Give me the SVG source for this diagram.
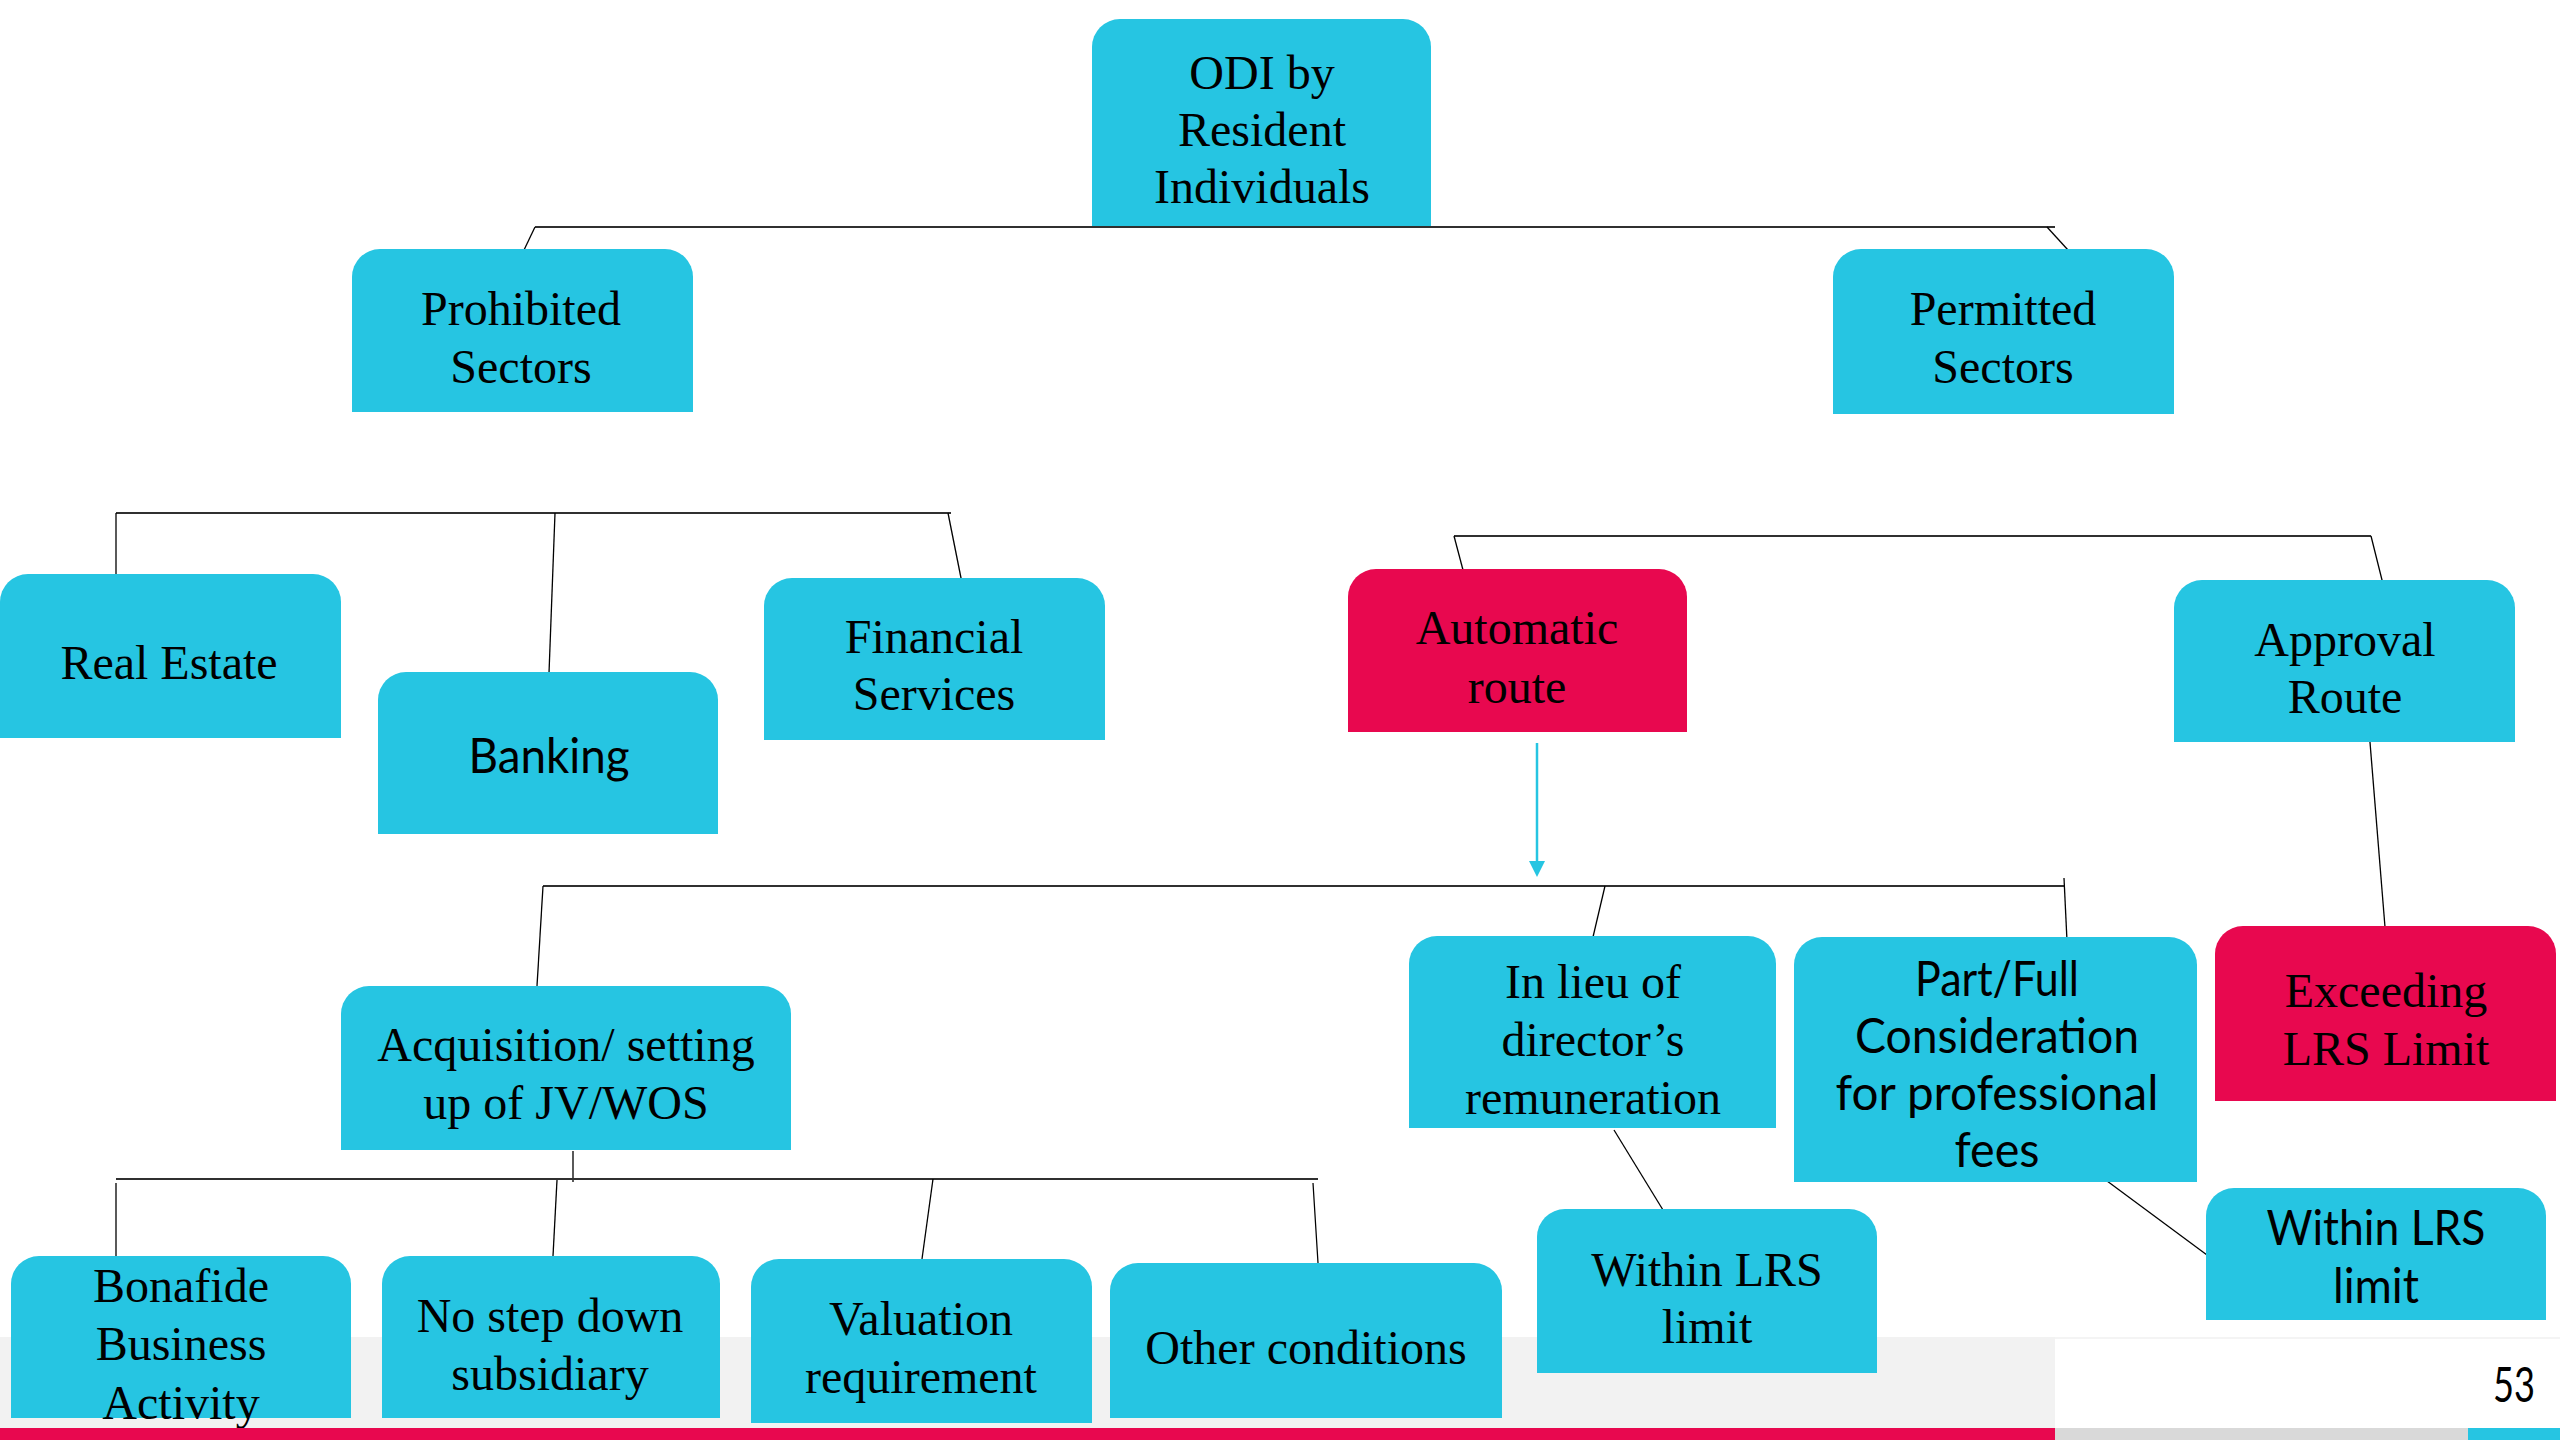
<svg xmlns="http://www.w3.org/2000/svg" width="2560" height="1440" viewBox="0 0 2560 1440">
<style>
.box{fill:#26C5E2}
.red{fill:#E8084F}
.t{font-family:"Liberation Serif","Times New Roman",serif;font-size:48px;fill:#000;text-anchor:middle}
.s{font-family:Lato,"Open Sans","Liberation Sans",sans-serif;font-size:48px;fill:#000;text-anchor:middle}
.h{stroke:#303030;stroke-width:2.2;fill:none}
.l{stroke:#000;stroke-width:1.3;fill:none}
</style>
<rect x="0" y="0" width="2560" height="1440" fill="#fff"/>
<g id="footer-band">
<rect x="0" y="1337" width="2055" height="92" fill="#F2F2F2"/>
<rect x="2055" y="1337" width="505" height="2" fill="#F4F4F4"/>
</g>
<g id="connectors">
<path class="h" d="M535 227 H2055"/>
<path class="l" d="M535 227 L524 250"/>
<path class="l" d="M2047 227 L2068 250"/>
<path class="h" d="M116 513 H951"/>
<path class="l" d="M116 513 V574"/>
<path class="l" d="M555 513 L549 673"/>
<path class="l" d="M948 513 L962 583"/>
<path class="h" d="M1454 536 H2371"/>
<path class="l" d="M1454 536 L1463 570"/>
<path class="l" d="M2371 536 L2385 592"/>
<path class="l" d="M2369 730 L2385 927"/>
<path d="M1537 743 V863" stroke="#26C5E2" stroke-width="2.5" fill="none"/>
<polygon points="1529,861 1545,861 1537,877" fill="#26C5E2"/>
<path class="h" d="M543 886 H2064"/>
<path class="l" d="M543 886 L537 986"/>
<path class="l" d="M1605 886 L1593 937"/>
<path class="l" d="M2064 878 L2067 941"/>
<path class="l" d="M1614 1130 L1663 1210"/>
<path class="l" d="M2103 1178 L2207 1255"/>
<path class="l" d="M573 1151 V1182"/>
<path class="h" d="M116 1179 H1318"/>
<path class="l" d="M116 1183 V1256"/>
<path class="l" d="M557 1180 L553 1256"/>
<path class="l" d="M933 1179 L922 1259"/>
<path class="l" d="M1313 1183 L1318 1263"/>
</g>
<g id="odi">
<path class="box" d="M1092 226 V47 A28 28 0 0 1 1120 19 H1403 A28 28 0 0 1 1431 47 V226 Z"/>
<text class="t" x="1262" y="89">ODI by</text>
<text class="t" x="1262" y="146">Resident</text>
<text class="t" x="1262" y="203">Individuals</text>
</g>
<g id="prohibited">
<path class="box" d="M352 412 V277 A28 28 0 0 1 380 249 H665 A28 28 0 0 1 693 277 V412 Z"/>
<text class="t" x="521" y="325">Prohibited</text>
<text class="t" x="521" y="383">Sectors</text>
</g>
<g id="permitted">
<path class="box" d="M1833 414 V277 A28 28 0 0 1 1861 249 H2146 A28 28 0 0 1 2174 277 V414 Z"/>
<text class="t" x="2003" y="325">Permitted</text>
<text class="t" x="2003" y="383">Sectors</text>
</g>
<g id="real-estate">
<path class="box" d="M0 738 V602 A28 28 0 0 1 28 574 H313 A28 28 0 0 1 341 602 V738 Z"/>
<text class="t" x="169" y="679">Real Estate</text>
</g>
<g id="banking">
<path class="box" d="M378 834 V700 A28 28 0 0 1 406 672 H690 A28 28 0 0 1 718 700 V834 Z"/>
<text class="s" x="549" y="773" textLength="161" lengthAdjust="spacingAndGlyphs">Banking</text>
</g>
<g id="financial">
<path class="box" d="M764 740 V606 A28 28 0 0 1 792 578 H1077 A28 28 0 0 1 1105 606 V740 Z"/>
<text class="t" x="934" y="653">Financial</text>
<text class="t" x="934" y="710">Services</text>
</g>
<g id="automatic">
<path class="red" d="M1348 732 V597 A28 28 0 0 1 1376 569 H1659 A28 28 0 0 1 1687 597 V732 Z"/>
<text class="t" x="1517" y="644">Automatic</text>
<text class="t" x="1517" y="703">route</text>
</g>
<g id="approval">
<path class="box" d="M2174 742 V608 A28 28 0 0 1 2202 580 H2487 A28 28 0 0 1 2515 608 V742 Z"/>
<text class="t" x="2345" y="656">Approval</text>
<text class="t" x="2345" y="713">Route</text>
</g>
<g id="acquisition">
<path class="box" d="M341 1150 V1014 A28 28 0 0 1 369 986 H763 A28 28 0 0 1 791 1014 V1150 Z"/>
<text class="t" x="566" y="1061">Acquisition/ setting</text>
<text class="t" x="566" y="1119">up of JV/WOS</text>
</g>
<g id="in-lieu">
<path class="box" d="M1409 1128 V964 A28 28 0 0 1 1437 936 H1748 A28 28 0 0 1 1776 964 V1128 Z"/>
<text class="t" x="1593" y="998">In lieu of</text>
<text class="t" x="1593" y="1056">director’s</text>
<text class="t" x="1593" y="1114">remuneration</text>
</g>
<g id="part-full">
<path class="box" d="M1794 1182 V965 A28 28 0 0 1 1822 937 H2169 A28 28 0 0 1 2197 965 V1182 Z"/>
<text class="s" x="1997" y="996" textLength="164" lengthAdjust="spacingAndGlyphs">Part/Full</text>
<text class="s" x="1997" y="1053" textLength="284" lengthAdjust="spacingAndGlyphs">Consideration</text>
<text class="s" x="1997" y="1110" textLength="323" lengthAdjust="spacingAndGlyphs">for professional</text>
<text class="s" x="1997" y="1167" textLength="85" lengthAdjust="spacingAndGlyphs">fees</text>
</g>
<g id="exceeding">
<path class="red" d="M2215 1101 V954 A28 28 0 0 1 2243 926 H2528 A28 28 0 0 1 2556 954 V1101 Z"/>
<text class="t" x="2386" y="1007">Exceeding</text>
<text class="t" x="2386" y="1065">LRS Limit</text>
</g>
<g id="within-lrs-1">
<path class="box" d="M1537 1373 V1237 A28 28 0 0 1 1565 1209 H1849 A28 28 0 0 1 1877 1237 V1373 Z"/>
<text class="t" x="1707" y="1286">Within LRS</text>
<text class="t" x="1707" y="1343">limit</text>
</g>
<g id="within-lrs-2">
<path class="box" d="M2206 1320 V1216 A28 28 0 0 1 2234 1188 H2518 A28 28 0 0 1 2546 1216 V1320 Z"/>
<text class="s" x="2376" y="1245" textLength="219" lengthAdjust="spacingAndGlyphs">Within LRS</text>
<text class="s" x="2376" y="1303" textLength="86" lengthAdjust="spacingAndGlyphs">limit</text>
</g>
<g id="bonafide">
<path class="box" d="M11 1418 V1284 A28 28 0 0 1 39 1256 H323 A28 28 0 0 1 351 1284 V1418 Z"/>
<text class="t" x="181" y="1302">Bonafide</text>
<text class="t" x="181" y="1360">Business</text>
<text class="t" x="181" y="1419">Activity</text>
</g>
<g id="no-step-down">
<path class="box" d="M382 1418 V1284 A28 28 0 0 1 410 1256 H692 A28 28 0 0 1 720 1284 V1418 Z"/>
<text class="t" x="550" y="1332">No step down</text>
<text class="t" x="550" y="1390">subsidiary</text>
</g>
<g id="valuation">
<path class="box" d="M751 1423 V1287 A28 28 0 0 1 779 1259 H1064 A28 28 0 0 1 1092 1287 V1423 Z"/>
<text class="t" x="921" y="1335">Valuation</text>
<text class="t" x="921" y="1393">requirement</text>
</g>
<g id="other-conditions">
<path class="box" d="M1110 1418 V1291 A28 28 0 0 1 1138 1263 H1474 A28 28 0 0 1 1502 1291 V1418 Z"/>
<text class="t" x="1306" y="1364">Other conditions</text>
</g>
<g id="footer">
<rect x="0" y="1428" width="2055" height="12" fill="#E8084F"/>
<rect x="2055" y="1428" width="413" height="12" fill="#D9D9D9"/>
<rect x="2468" y="1428" width="92" height="12" fill="#26C5E2"/>
<text class="s" x="2535" y="1402" style="text-anchor:end" font-size="46" textLength="42" lengthAdjust="spacingAndGlyphs">53</text>
</g>
</svg>
